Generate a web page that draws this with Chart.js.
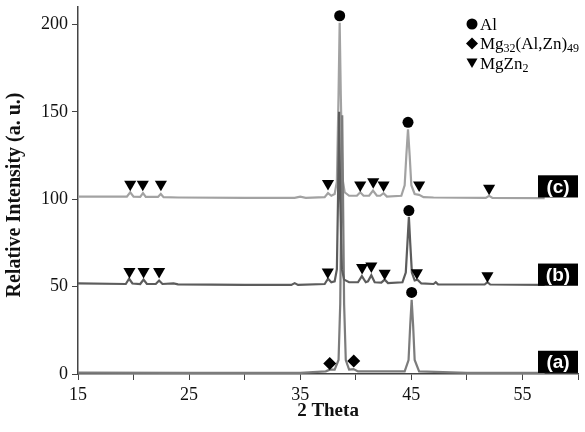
<!DOCTYPE html>
<html>
<head>
<meta charset="utf-8">
<script src="https://cdn.jsdelivr.net/npm/chart.js"></script>
<style>
  html, body { margin: 0; padding: 0; background: #fff; }
  #wrap { width: 585px; height: 432px; }
</style>
</head>
<body>
<div id="wrap"><canvas id="xrd"></canvas></div>
<script>
// pattern (a)
const thetaA = [15, 25, 30, 35, 37.3, 37.66, 38.1, 38.45, 38.6, 38.78, 38.95, 39.1, 39.4, 39.8, 40.2, 44.4, 44.75, 44.9, 45.03, 45.16, 45.3, 45.7, 50, 57];
const intensityA = [0.8, 0.6, 0.6, 0.6, 1.5, 2.5, 2.5, 8, 40, 148, 40, 8, 2.5, 2.8, 1.5, 1.5, 8, 28, 42.5, 28, 8, 1.5, 0.7, 0.6];

// pattern (b)
const thetaB = [15, 19.3, 19.6, 19.9, 20.6, 20.9, 21.2, 22.0, 22.3, 22.6, 23.6, 24, 30, 34.2, 34.5, 34.8, 37.2, 37.5, 37.8, 38.1, 38.3, 38.4, 38.5, 38.6, 38.75, 38.95, 39.4, 40.2, 40.55, 40.9, 41.1, 41.4, 41.7, 42.3, 42.6, 42.9, 44.2, 44.5, 44.65, 44.78, 44.9, 45.05, 45.3, 45.55, 45.9, 47.0, 47.2, 47.4, 51.6, 51.85, 52.1, 57];
const intensityB = [51.8, 51.5, 54.5, 51.8, 51.5, 54, 51.5, 51.5, 53.5, 51.5, 51.8, 51.3, 51, 51, 52, 51, 51.5, 54.5, 52.5, 53, 60, 100, 150, 100, 60, 54, 52.5, 52.5, 56, 52.5, 53, 56.5, 52.5, 52.3, 54, 52, 52.5, 58, 75, 90, 75, 58, 53.5, 54, 51.8, 51.5, 52.5, 51.3, 51.2, 52.5, 51.2, 51];

// pattern (c)
const thetaC = [15, 19.4, 19.7, 20.0, 20.6, 20.85, 21.1, 22.2, 22.45, 22.7, 24, 30, 34.5, 35, 35.5, 37.2, 37.5, 37.8, 38.1, 38.3, 38.45, 38.55, 38.65, 38.8, 39.0, 39.4, 40.1, 40.4, 40.7, 41.2, 41.55, 41.9, 42.2, 42.5, 42.8, 44.1, 44.4, 44.55, 44.7, 44.85, 45.0, 45.3, 45.7, 46.1, 47, 51.7, 52, 52.3, 57];
const intensityC = [101.5, 101.5, 104, 101.5, 101.3, 103.5, 101.3, 101.3, 103, 101.2, 101, 100.8, 100.8, 101.5, 100.8, 101.2, 103.5, 102, 103, 110, 160, 201, 160, 112, 104, 102, 102, 104, 102, 102, 105, 102, 102, 103.5, 101.5, 102, 108, 125, 140, 125, 108, 103, 102.5, 101.2, 101, 100.8, 102, 100.8, 100.6];

// phase markers
const alTheta = [38.55, 44.7, 44.78, 45.03];
const alY = [205, 144, 93.5, 46.7];
const mgAlZnTheta = [37.66, 39.82];
const mgAlZnY = [6, 7.4];
const mgZn2Theta = [19.7, 20.83, 22.46, 37.5, 40.4, 41.57, 42.5, 45.7, 52.0,
                    19.63, 20.9, 22.3, 37.48, 40.57, 41.4, 42.6, 45.5, 51.85];
const mgZn2Y = [108.6, 108.6, 108.6, 109, 108.2, 110, 108.2, 108.2, 106.3,
                58.6, 58.6, 58.6, 58.4, 60.9, 61.8, 57.6, 57.9, 56.2];

// sample tags and the intensity their box sits on
const sampleLabels = ['(a)', '(b)', '(c)'];
const sampleBase = [0.6, 50.5, 101];

// legend entries (text pieces, 1 = subscript)
const legendStyles = ['circle', 'rectRot', 'triangle'];
const legendText = [
  [['Al', 0]],
  [['Mg', 0], ['32', 1], ['(Al,Zn)', 0], ['49', 1]],
  [['MgZn', 0], ['2', 1]]
];

const xTicks = [15, 25, 35, 45, 55];
const yTicks = [0, 50, 100, 150, 200];
const yTitle = 'Relative Intensity (a. u.)';

const toPoints = (xs, ys) => xs.map((x, i) => ({ x: x, y: ys[i] }));

const serif = '"Liberation Serif", "Times New Roman", serif';

function marker(ctx, style, x, y) {
  ctx.beginPath();
  if (style === 'circle') {
    ctx.arc(x, y, 5.5, 0, Math.PI * 2);
  } else if (style === 'rectRot') {
    ctx.moveTo(x, y - 6); ctx.lineTo(x + 6, y); ctx.lineTo(x, y + 6); ctx.lineTo(x - 6, y);
  } else {
    ctx.moveTo(x - 5.5, y - 4.5); ctx.lineTo(x + 5.5, y - 4.5); ctx.lineTo(x, y + 5);
  }
  ctx.closePath();
  ctx.fill();
}

const extras = {
  id: 'extras',
  afterDraw(chart) {
    const ctx = chart.ctx;
    const xs = chart.scales.x, ys = chart.scales.y;
    ctx.save();
    // sample tags
    sampleLabels.forEach((lab, i) => {
      const left = xs.getPixelForValue(56.4);
      const bottom = ys.getPixelForValue(sampleBase[i]);
      const top = ys.getPixelForValue(sampleBase[i] + 12.7);
      ctx.fillStyle = '#000';
      ctx.fillRect(left, top, chart.chartArea.right - left, bottom - top);
      ctx.fillStyle = '#fff';
      ctx.font = 'bold 19px "Liberation Sans", Arial, sans-serif';
      ctx.textAlign = 'center';
      ctx.textBaseline = 'middle';
      ctx.fillText(lab, (left + chart.chartArea.right) / 2, (top + bottom) / 2 + 1);
    });
    // y axis title
    ctx.save();
    ctx.translate(15, 195);
    ctx.rotate(-Math.PI / 2);
    ctx.fillStyle = '#111';
    ctx.font = 'bold 20px ' + serif;
    ctx.textAlign = 'center';
    ctx.textBaseline = 'middle';
    ctx.fillText(yTitle, 0, 0);
    ctx.restore();
    // legend
    ctx.fillStyle = '#000';
    ctx.textAlign = 'left';
    ctx.textBaseline = 'alphabetic';
    legendText.forEach((parts, i) => {
      const y = 24 + i * 19.5;
      marker(ctx, legendStyles[i], 472, y);
      let x = 480;
      parts.forEach(p => {
        ctx.font = (p[1] ? '12px ' : '17px ') + serif;
        ctx.fillText(p[0], x, y + (p[1] ? 8.5 : 5.5));
        x += ctx.measureText(p[0]).width;
      });
    });
    ctx.restore();
  }
};

const markerSet = (xs, ys, style, r, rot) => ({
  data: toPoints(xs, ys),
  showLine: false,
  pointStyle: style,
  pointRadius: r,
  pointRotation: rot || 0,
  pointBackgroundColor: '#000',
  pointBorderColor: '#000',
  pointBorderWidth: 0
});

const lineSet = (xs, ys, color) => ({
  data: toPoints(xs, ys),
  showLine: true,
  borderColor: color,
  borderWidth: 2.2,
  pointRadius: 0,
  tension: 0
});

new Chart(document.getElementById('xrd'), {
  type: 'scatter',
  data: {
    datasets: [
      markerSet(alTheta, alY, 'circle', 5.5),
      markerSet(mgAlZnTheta, mgAlZnY, 'rectRot', 6.5),
      markerSet(mgZn2Theta, mgZn2Y, 'triangle', 7, 180),
      lineSet(thetaB, intensityB, '#5c5c5c'),
      lineSet(thetaA, intensityA, '#7c7c7c'),
      lineSet(thetaC, intensityC, '#a2a2a2')
    ]
  },
  options: {
    responsive: true,
    maintainAspectRatio: false,
    animation: false,
    layout: { padding: { top: 4, right: 7, left: 0, bottom: 0 } },
    plugins: { legend: { display: false }, tooltip: { enabled: false } },
    scales: {
      x: {
        min: 15, max: 60,
        afterFit: s => { s.height = 58; s.paddingLeft = 0; s.paddingRight = 0; },
        ticks: {
          stepSize: 5, autoSkip: false, maxRotation: 0, padding: 4,
          color: '#111', font: { family: serif, size: 18 },
          callback: v => xTicks.includes(v) ? String(v) : ''
        },
        grid: { drawOnChartArea: false, tickLength: 6, color: '#444' },
        border: { color: '#444', width: 1.5 },
        title: {
          display: true, text: '2 Theta', color: '#111',
          font: { family: serif, size: 19, weight: 'bold' },
          padding: { top: 0, bottom: 10 }
        }
      },
      y: {
        min: 0, max: 210,
        afterFit: s => { s.width = 78; s.paddingTop = 0; s.paddingBottom = 0; },
        afterBuildTicks: s => { s.ticks = yTicks.map(v => ({ value: v })); },
        ticks: {
          padding: 4,
          color: '#111', font: { family: serif, size: 18 }
        },
        grid: { drawOnChartArea: false, tickLength: 6, color: '#444' },
        border: { color: '#444', width: 1.5 }
      }
    }
  },
  plugins: [extras]
});
</script>
</body>
</html>
